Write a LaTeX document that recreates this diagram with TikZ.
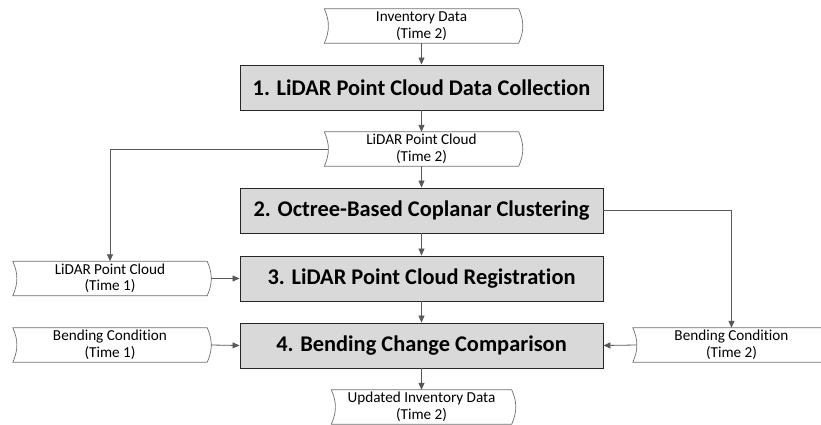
\documentclass[tikz,border=0pt]{standalone}
\usepackage{fontspec}
\setmainfont{Carlito}[Ligatures={NoCommon,NoContextual}]
\usetikzlibrary{arrows.meta,positioning}
\definecolor{boxfill}{HTML}{D9D9D9}
\definecolor{boxline}{HTML}{262626}
\definecolor{dataline}{HTML}{6E6E6E}
\definecolor{arrowgray}{HTML}{595959}
\tikzset{
  procbox/.style={draw=boxline,fill=boxfill,line width=0.9pt,minimum width=363pt,
    minimum height=45pt,inner sep=0pt,font=\fontsize{22.4}{26}\selectfont\bfseries},
  datanode/.style={minimum height=34pt,inner sep=0pt,align=center,
    font=\fontsize{15.2}{16.5}\selectfont},
  dataedge/.style={draw=dataline,line width=0.7pt},
  arr/.style={-{Triangle[length=7pt,width=6pt]},draw=arrowgray,line width=0.8pt},
}

\begin{document}
\begin{tikzpicture}[x=1pt,y=-1pt]
  \useasboundingbox (0,0) rectangle (821,425);
  % process steps
  \foreach \i/\y/\lab in {1/87.5/{1. LiDAR Point Cloud Data Collection},
      2/210.5/{2. Octree-Based Coplanar Clustering},
      3/278.5/{3. LiDAR Point Cloud Registration},
      4/345.5/{4. Bending Change Comparison}}{
    \node[procbox] (p\i) at (421.5,\y) {\lab};
  }
  % data
  \node[datanode,minimum width=194pt] (inv) at (421.5,26) {Inventory Data\\(Time 2)};
  \node[datanode,minimum width=194pt] (pc2) at (421.5,149) {LiDAR Point Cloud\\(Time 2)};
  \node[datanode,minimum width=194pt] (pc1) at (110,278.5) {LiDAR Point Cloud\\(Time 1)};
  \node[datanode,minimum width=194pt] (bc1) at (110,345) {Bending Condition\\(Time 1)};
  \node[datanode,minimum width=197pt] (bc2) at (731.5,345) {Bending Condition\\(Time 2)};
  \node[datanode,minimum width=180pt] (upd) at (421.5,407) {Updated Inventory Data\\(Time 2)};
  \foreach \n in {inv,pc2,pc1,bc1,bc2,upd}{
    \draw[dataedge] (\n.north west) to[bend left=24] (\n.south west) -- (\n.south east)
      to[bend right=24] (\n.north east) -- cycle;
  }
  % flow
  \draw[arr] (inv) -- (p1);
  \draw[arr] (p1) -- (pc2);
  \draw[arr] (pc2) -- (p2);
  \foreach \i/\j in {2/3,3/4}{ \draw[arr] (p\i) -- (p\j); }
  \draw[arr] (p4) -- (upd);
  \draw[arr] ([xshift=4pt]pc2.west) -| (pc1.north);
  \draw[arr] (p2.east) -| (bc2.north);
  \draw[arr] ([xshift=4pt]pc1.east) -- (p3.west);
  \draw[arr] ([xshift=4pt]bc1.east) -- (p4.west);
  \draw[arr] ([xshift=4pt]bc2.west) -- (p4.east);
\end{tikzpicture}
\end{document}
